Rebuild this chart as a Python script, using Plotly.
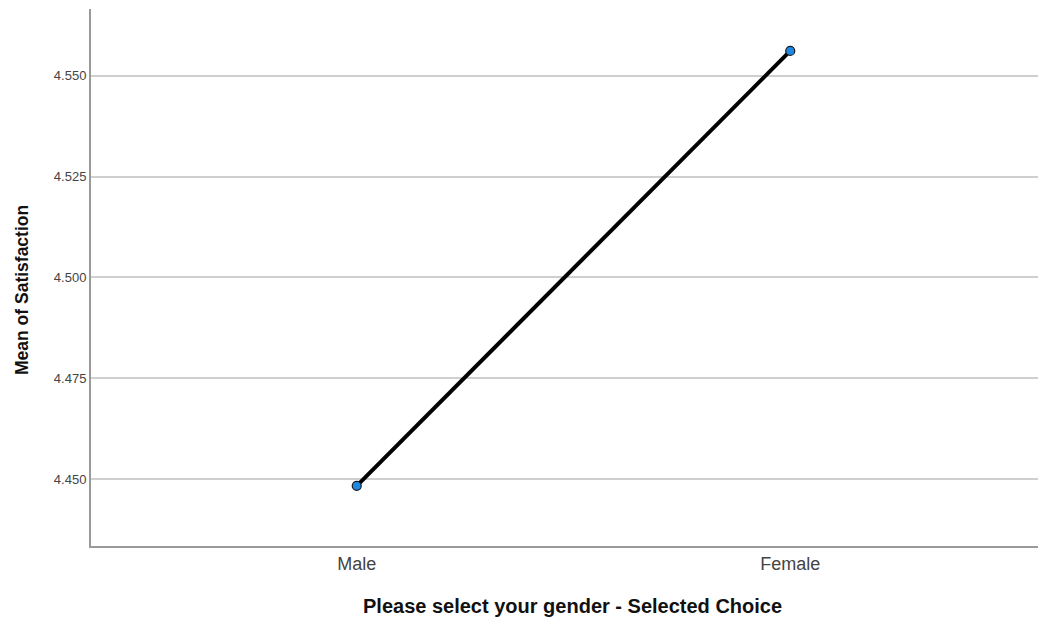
import plotly.graph_objects as go

categories = ["Male", "Female"]
means = [4.4483, 4.5562]
y_ticks = [4.450, 4.475, 4.500, 4.525, 4.550]
y_tick_labels = ["4.450", "4.475", "4.500", "4.525", "4.550"]

# page body has an 8px margin; figure is sized/placed so the plot lands where the reference has it
OFF = 8
W, H = 1046 - OFF, 622 - OFF
L, T = 91 - OFF, 9 - OFF
B = H - (546 - OFF)

fig = go.Figure()
fig.add_trace(go.Scatter(
    x=categories, y=means, mode="lines+markers",
    line=dict(color="black", width=4),
    marker=dict(size=9, color="#1e88e5", line=dict(color="#1a1a1a", width=1.2)),
    showlegend=False, cliponaxis=False,
))

fig.update_layout(
    width=W, height=H,
    margin=dict(l=L, r=0, t=T, b=B, pad=0),
    paper_bgcolor="white", plot_bgcolor="white",
    font=dict(family="Liberation Sans, Arial, sans-serif", color="#333"),
    xaxis=dict(
        type="category", range=[-0.613, 1.59],
        showgrid=False, showline=True, linecolor="#9a9a9a", linewidth=2,
        ticks="", tickfont=dict(size=18, color="#444"), zeroline=False,
    ),
    yaxis=dict(
        range=[4.43337, 4.5666], tickvals=y_ticks, ticktext=y_tick_labels,
        showgrid=True, gridcolor="#cfcfcf", gridwidth=1.5,
        showline=True, linecolor="#9a9a9a", linewidth=2,
        ticks="", tickfont=dict(size=13, color="#444"), zeroline=False,
    ),
)

pw = W - L
ph = H - T - B
def ann(text, px, py, size, angle=0):
    fig.add_annotation(
        text=text, x=(px - OFF - L) / pw, y=(H - B - (py - OFF)) / ph,
        xref="paper", yref="paper", xanchor="center", yanchor="middle",
        showarrow=False, textangle=angle, font=dict(size=size, color="#111"),
    )

ann("<b>Mean of Satisfaction</b>", 22, 290, 17.5, -90)
ann("<b>Please select your gender - Selected Choice</b>", 572, 606, 20)

fig.write_html("out.html")
